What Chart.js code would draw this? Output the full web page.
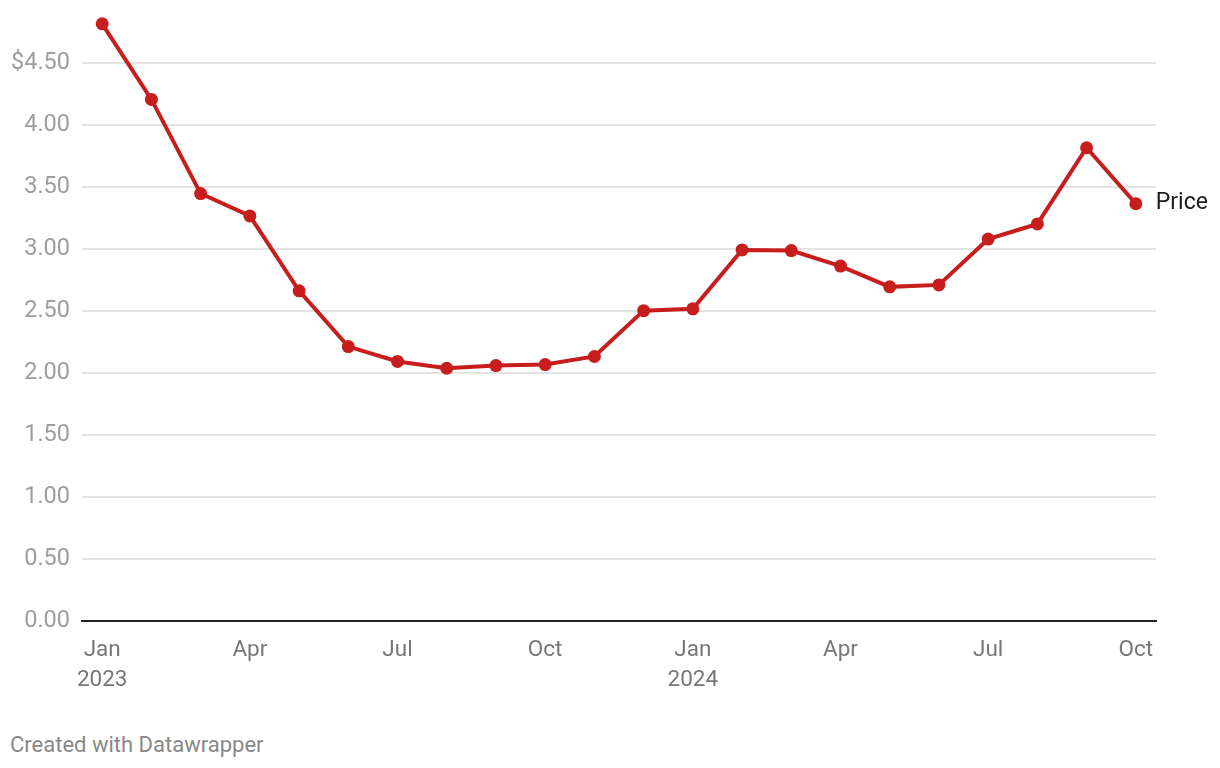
<!DOCTYPE html>
<html><head><meta charset="utf-8">
<script src="https://cdn.jsdelivr.net/npm/chart.js@4"></script>
<style>
html,body{margin:0;padding:0;background:#fff;}
#wrap{position:relative;width:1220px;height:768px;}
#c{position:absolute;left:0;top:0;}
#credit{position:absolute;left:10px;top:731px;font:22px Roboto,sans-serif;color:#888;line-height:28px;}
</style></head>
<body><div id="wrap"><canvas id="c" width="1220" height="710"></canvas><div id="credit">Created with Datawrapper</div></div>
<script>
const months = ["Jan 2023","Feb 2023","Mar 2023","Apr 2023","May 2023","Jun 2023","Jul 2023","Aug 2023","Sep 2023","Oct 2023","Nov 2023","Dec 2023","Jan 2024","Feb 2024","Mar 2024","Apr 2024","May 2024","Jun 2024","Jul 2024","Aug 2024","Sep 2024","Oct 2024"];
const price = [4.82,4.21,3.45,3.27,2.665,2.215,2.095,2.04,2.062,2.07,2.135,2.505,2.52,2.995,2.99,2.865,2.697,2.713,3.083,3.205,3.82,3.368];
const xTickIdx = [0,3,6,9,12,15,18,21];
const xTickLabels = [["Jan","2023"],["Apr"],["Jul"],["Oct"],["Jan","2024"],["Apr"],["Jul"],["Oct"]];
const yTicks = [0,0.5,1,1.5,2,2.5,3,3.5,4,4.5];
const seriesName = "Price";
const red = "#c71e1d";

const endLabel = {
  id:'endLabel',
  afterDatasetsDraw(chart){
    const meta = chart.getDatasetMeta(0);
    const p = meta.data[meta.data.length-1];
    const ctx = chart.ctx;
    ctx.save();
    ctx.font = '23px Roboto, sans-serif';
    ctx.fillStyle = '#1d1d1d';
    ctx.textBaseline = 'middle';
    ctx.fillText(seriesName, p.x + 20, p.y);
    ctx.restore();
  }
};

new Chart(document.getElementById('c'), {
  type:'line',
  data:{
    datasets:[{
      label:seriesName,
      data: price.map((v,i)=>({x:i,y:v})),
      borderColor:red, backgroundColor:red,
      borderWidth:4, pointRadius:6.5, pointHoverRadius:6.5,
      pointBorderWidth:0, tension:0
    }]
  },
  options:{
    responsive:false, animation:false,
    layout:{padding:{left:0,right:64,top:0,bottom:0}},
    plugins:{legend:{display:false},tooltip:{enabled:false}},
    scales:{
      x:{
        type:'linear', min:-0.41, max:21.41,
        afterBuildTicks(s){ s.ticks = xTickIdx.map(v=>({value:v})); },
        afterFit(s){ s.height = 89; s.paddingLeft = 0; s.paddingRight = 0; },
        grid:{display:false, drawTicks:false},
        border:{display:true,color:'#222',width:2},
        ticks:{
          autoSkip:false, maxRotation:0, padding:14,
          color:'#777', font:{family:'Roboto',size:22.5,lineHeight:1.33},
          callback(v){ const k = xTickIdx.indexOf(v); return k>=0 ? xTickLabels[k] : ''; }
        }
      },
      y:{
        min:0, max:4.96,
        afterBuildTicks(s){ s.ticks = yTicks.map(v=>({value:v})); },
        afterFit(s){ s.width = 82; s.paddingTop = 0; s.paddingBottom = 0; },
        grid:{color:'#e3e3e3', lineWidth:2, drawTicks:false},
        border:{display:false},
        ticks:{
          padding:12, color:'#9e9e9e', font:{family:'Roboto',size:23.5},
          callback(v){ const t = v.toFixed(2); return v===4.5 ? '$'+t : t; }
        }
      }
    }
  },
  plugins:[endLabel]
});
</script>
</body></html>
